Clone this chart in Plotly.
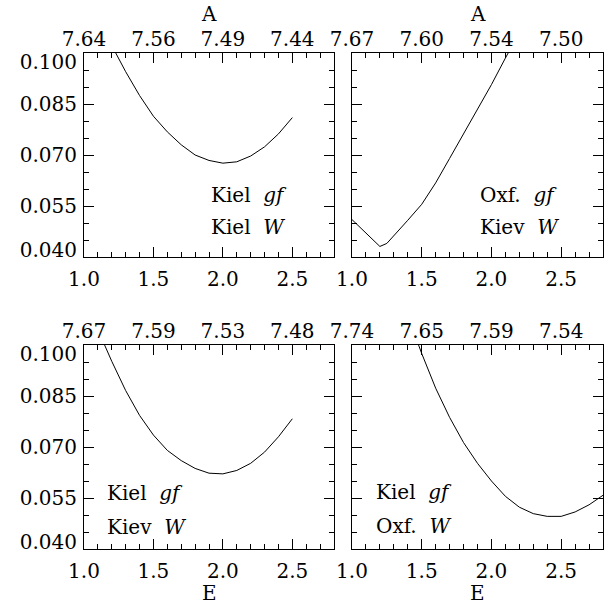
import plotly.graph_objects as go

# ---- data ----
p1_x = [1.2, 1.3, 1.4, 1.5, 1.6, 1.7, 1.8, 1.9, 2.0, 2.1, 2.2, 2.3, 2.4, 2.5]
p1_y = [0.1022, 0.0945, 0.0875, 0.0814, 0.0768, 0.0730, 0.0700, 0.0684, 0.0676, 0.0680, 0.0697, 0.0724, 0.0762, 0.0810]

p2_x = [1.0, 1.2, 1.25, 1.3, 1.4, 1.5, 1.6, 1.7, 1.8, 1.9, 2.0, 2.1, 2.2]
p2_y = [0.0510, 0.0431, 0.0440, 0.0462, 0.0508, 0.0555, 0.0618, 0.0690, 0.0763, 0.0835, 0.0907, 0.0985, 0.1060]

p3_x = [1.1, 1.2, 1.3, 1.4, 1.5, 1.6, 1.7, 1.8, 1.9, 2.0, 2.1, 2.2, 2.3, 2.4, 2.5]
p3_y = [0.1045, 0.0952, 0.0866, 0.0793, 0.0735, 0.0690, 0.0660, 0.0637, 0.0623, 0.0621, 0.0631, 0.0652, 0.0685, 0.0730, 0.0783]

p4_x = [1.45, 1.5, 1.6, 1.7, 1.8, 1.9, 2.0, 2.1, 2.2, 2.3, 2.4, 2.5, 2.6, 2.7, 2.8]
p4_y = [0.1030, 0.0975, 0.0873, 0.0787, 0.0713, 0.0652, 0.0600, 0.0555, 0.0523, 0.0504, 0.0496, 0.0496, 0.0509, 0.0530, 0.0558]

bottom_ticks = [1.0, 1.5, 2.0, 2.5]
top_labels = [
    ["7.64", "7.56", "7.49", "7.44"],
    ["7.67", "7.60", "7.54", "7.50"],
    ["7.67", "7.59", "7.53", "7.48"],
    ["7.74", "7.65", "7.59", "7.54"],
]
y_ticks = [0.040, 0.055, 0.070, 0.085, 0.100]
y_labels = ["0.040", "0.055", "0.070", "0.085", "0.100"]
# the end labels sit slightly inside the frame, as in the original plot
y_label_pos = [0.0420, 0.055, 0.070, 0.085, 0.0975]

NB = "\u00a0"
panel_text = [
    ("Kiel" + NB + " <i>gf</i>", "Kiel" + NB + " <i>W</i>"),
    ("Oxf." + NB + " <i>gf</i>", "Kiev" + NB + " <i>W</i>"),
    ("Kiel" + NB + " <i>gf</i>", "Kiev" + NB + " <i>W</i>"),
    ("Kiel" + NB + " <i>gf</i>", "Oxf." + NB + " <i>W</i>"),
]
text_pos = [(1.90, 0.0582, 0.0488), (1.904, 0.0582, 0.0488),
            (1.151, 0.0565, 0.0465), (1.158, 0.0568, 0.0468)]

W, H = 604, 609
FONT = "DejaVu Serif"
FS = 20

xdom = [[84 / W, 334 / W], [352 / W, 603 / W]] * 2
ydom = [[(H - 257) / H, (H - 53) / H]] * 2 + [[(H - 549) / H, (H - 345) / H]] * 2

fig = go.Figure()
series = [(p1_x, p1_y), (p2_x, p2_y), (p3_x, p3_y), (p4_x, p4_y)]
layout = dict(
    template="none",
    width=W, height=H, margin=dict(l=0, r=0, t=0, b=0, autoexpand=False),
    paper_bgcolor="white", plot_bgcolor="white", showlegend=False,
    font=dict(family=FONT, size=FS, color="black"),
)
annotations = []
clear = dict(color="rgba(0,0,0,0)", width=0)
for i in range(4):
    n = i + 1
    xs, ys = series[i]
    fig.add_trace(go.Scatter(x=xs, y=ys, mode="lines", line=dict(color="black", width=1),
                             xaxis=f"x{n}", yaxis=f"y{n}", hoverinfo="skip"))
    # invisible helpers anchoring the label-only axes
    fig.add_trace(go.Scatter(x=xs, y=ys, mode="lines", line=clear,
                             xaxis=f"x{n+4}", yaxis=f"y{n}", hoverinfo="skip"))
    if i % 2 == 0:
        fig.add_trace(go.Scatter(x=xs, y=ys, mode="lines", line=clear,
                                 xaxis=f"x{n}", yaxis=f"y{n+4}", hoverinfo="skip"))
    layout[f"xaxis{n}"] = dict(
        domain=xdom[i], anchor=f"y{n}", range=[1.0, 2.8], automargin=False,
        tickmode="array", tickvals=bottom_ticks, ticktext=[f"{v:.1f}" for v in bottom_ticks],
        ticks="inside", ticklen=10, tickwidth=1, tickcolor="black",
        minor=dict(dtick=0.1, tick0=1.0, ticks="inside", ticklen=5, tickwidth=1, tickcolor="black",
                   showgrid=False),
        showline=True, linecolor="black", linewidth=1, mirror="ticks",
        showgrid=False, zeroline=False, ticklabelstandoff=4,
        tickfont=dict(family=FONT, size=FS, color="black"),
    )
    layout[f"yaxis{n}"] = dict(
        domain=ydom[i], anchor=f"x{n}", range=[0.04, 0.10], automargin=False,
        tickmode="array", tickvals=y_ticks,
        ticks="inside", ticklen=10, tickwidth=1, tickcolor="black",
        minor=dict(dtick=0.005, tick0=0.04, ticks="inside", ticklen=5, tickwidth=1, tickcolor="black",
                   showgrid=False),
        showline=True, linecolor="black", linewidth=1, mirror="ticks",
        showgrid=False, zeroline=False, showticklabels=False,
    )
    if i % 2 == 0:
        layout[f"yaxis{n+4}"] = dict(
            overlaying=f"y{n}", anchor=f"x{n}", side="left", range=[0.04, 0.10], automargin=False,
            tickmode="array", tickvals=y_label_pos, ticktext=y_labels,
            ticks="", showline=False, showgrid=False, zeroline=False, ticklabelstandoff=6,
            tickfont=dict(family=FONT, size=FS, color="black"),
        )
    layout[f"xaxis{n+4}"] = dict(
        overlaying=f"x{n}", anchor=f"y{n}", side="top", range=[1.0, 2.8], automargin=False,
        tickmode="array", tickvals=bottom_ticks, ticktext=top_labels[i],
        ticks="", showline=False, showgrid=False, zeroline=False, ticklabelstandoff=2,
        tickfont=dict(family=FONT, size=FS, color="black"),
    )
    tx, ty1, ty2 = text_pos[i]
    for txt, ty in zip(panel_text[i], (ty1, ty2)):
        annotations.append(dict(text=txt, x=tx, y=ty, xref=f"x{n}", yref=f"y{n}",
                                xanchor="left", yanchor="middle", showarrow=False,
                                font=dict(family=FONT, size=FS, color="black")))

for cx in (209 / W, 477.5 / W):
    annotations.append(dict(text="A", x=cx, y=(H - 14) / H, xref="paper", yref="paper",
                            xanchor="center", yanchor="middle", showarrow=False,
                            font=dict(family=FONT, size=FS, color="black")))
    annotations.append(dict(text="E", x=cx, y=16 / H, xref="paper", yref="paper",
                            xanchor="center", yanchor="middle", showarrow=False,
                            font=dict(family=FONT, size=FS, color="black")))

layout["annotations"] = annotations
fig.update_layout(**layout)
fig.write_html("out.html")
